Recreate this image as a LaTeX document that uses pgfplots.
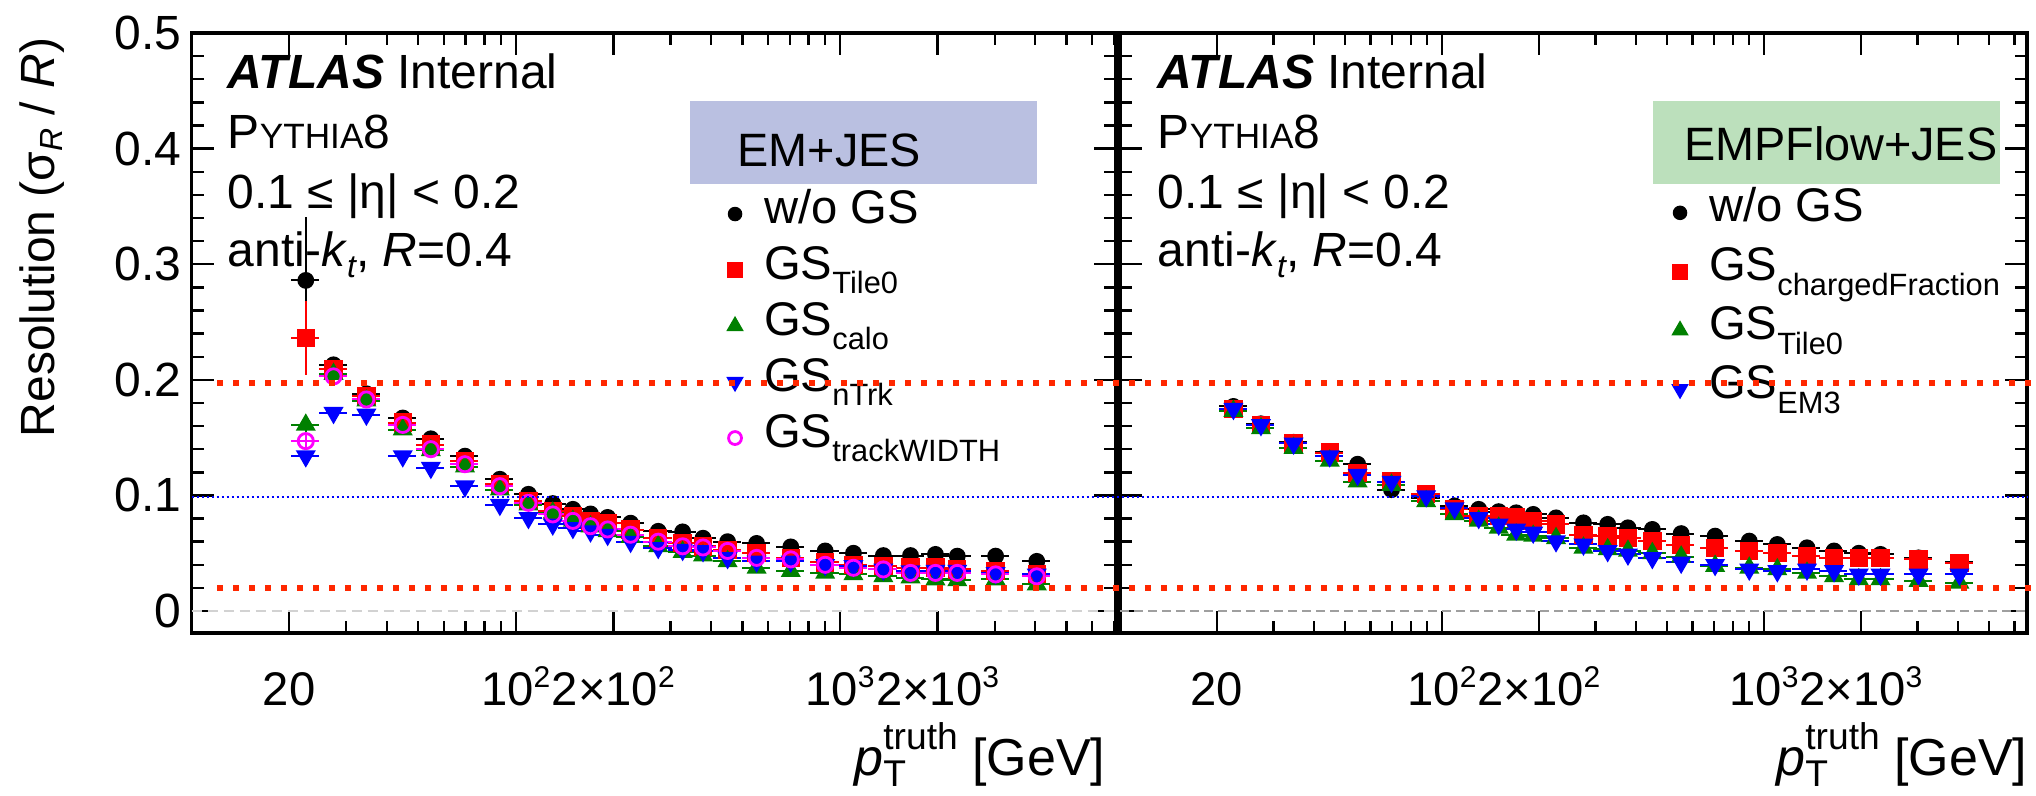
\documentclass[border=0pt]{standalone}
\usepackage{fontspec}
\setmainfont{Liberation Sans}
\usepackage{pgfplots}
\usepackage{pgfplotstable}
\pgfplotsset{compat=1.18}

\definecolor{rootgreen}{RGB}{0,128,0}
\definecolor{rootred}{RGB}{255,0,0}
\definecolor{rootblue}{RGB}{0,0,255}
\definecolor{rootmag}{RGB}{255,0,255}
\definecolor{annred}{RGB}{255,40,0}
\definecolor{emfill}{RGB}{186,192,225}
\definecolor{pffill}{RGB}{188,224,188}

\newcommand{\fs}[1]{\fontsize{#1}{#1}\selectfont}
\newcommand{\sub}[1]{\raisebox{-3.7pt}{\fs{7.7}#1}}
\newcommand{\sps}[1]{\raisebox{4.3pt}{\fs{7.5}#1}}

\pgfplotstableread{
x ex bk ebk rd erd gr egr bl ebl mg emg
22.5 0.1 0.286 0.055 0.236 0.032 0.161 0.006 0.134 0.004 0.147 0.005
27.4 0.1 0.213 0.004 0.209 0.004 0.205 0.004 0.1715 0.004 0.203 0.004
34.6 0.1 0.188 0.003 0.186 0.003 0.182 0.003 0.170 0.003 0.183 0.003
44.8 0.1 0.167 0.003 0.163 0.003 0.157 0.003 0.134 0.003 0.161 0.003
54.7 0.1 0.149 0.002 0.144 0.002 0.139 0.002 0.124 0.002 0.140 0.002
69.7 0.1 0.134 0.002 0.130 0.002 0.125 0.002 0.108 0.002 0.127 0.002
89.3 0.1 0.114 0.002 0.1095 0.002 0.105 0.002 0.092 0.002 0.108 0.002
109.4 0.1 0.101 0.002 0.095 0.002 0.092 0.002 0.0806 0.002 0.0936 0.002
130 0.1 0.093 0.002 0.0865 0.002 0.085 0.002 0.075 0.002 0.0836 0.002
150 0.1 0.088 0.002 0.082 0.002 0.078 0.002 0.072 0.002 0.078 0.002
170 0.1 0.084 0.002 0.078 0.002 0.073 0.002 0.069 0.002 0.0734 0.002
192 0.1 0.081 0.002 0.076 0.002 0.069 0.002 0.066 0.002 0.0706 0.002
226 0.1 0.076 0.002 0.0705 0.002 0.064 0.002 0.060 0.002 0.066 0.002
275 0.1 0.069 0.002 0.063 0.002 0.056 0.002 0.0547 0.002 0.060 0.002
327 0.1 0.0685 0.002 0.059 0.002 0.051 0.002 0.053 0.002 0.056 0.002
378 0.1 0.063 0.002 0.056 0.002 0.048 0.002 0.052 0.002 0.055 0.002
450 0.1 0.060 0.002 0.053 0.002 0.043 0.002 0.046 0.002 0.052 0.002
553 0.1 0.0585 0.002 0.050 0.002 0.0374 0.002 0.043 0.002 0.046 0.002
705 0.1 0.0555 0.002 0.046 0.002 0.0345 0.002 0.043 0.002 0.0447 0.002
900 0.1 0.052 0.002 0.042 0.002 0.033 0.002 0.040 0.002 0.040 0.002
1100 0.1 0.050 0.002 0.040 0.002 0.0317 0.002 0.039 0.002 0.0374 0.002
1360 0.1 0.048 0.002 0.039 0.002 0.030 0.002 0.036 0.002 0.036 0.002
1650 0.1 0.048 0.002 0.0375 0.002 0.029 0.002 0.0345 0.002 0.033 0.002
1970 0.1 0.049 0.002 0.0375 0.002 0.0273 0.002 0.035 0.002 0.033 0.002
2300 0.1 0.0475 0.002 0.036 0.002 0.0265 0.002 0.035 0.002 0.033 0.002
3020 0.1 0.0475 0.002 0.0345 0.002 0.0273 0.002 0.033 0.002 0.0317 0.002
4045 0.1 0.043 0.002 0.032 0.002 0.023 0.002 0.0317 0.002 0.030 0.002
}\leftdata

\pgfplotstableread{
x ex bk ebk rd erd gr egr bl ebl
22.5 0.1 0.177 0.003 0.175 0.003 0.173 0.003 0.175 0.003
27.4 0.1 0.162 0.002 0.161 0.002 0.158 0.002 0.161 0.002
34.6 0.1 0.146 0.002 0.145 0.002 0.141 0.002 0.145 0.002
44.8 0.1 0.138 0.002 0.137 0.002 0.130 0.002 0.134 0.002
54.7 0.1 0.127 0.002 0.1195 0.002 0.112 0.002 0.118 0.002
69.7 0.1 0.105 0.002 0.112 0.002 0.109 0.002 0.112 0.002
89.3 0.1 0.098 0.002 0.101 0.002 0.095 0.002 0.0994 0.002
109.4 0.1 0.091 0.002 0.088 0.002 0.0836 0.002 0.089 0.002
130 0.1 0.088 0.002 0.082 0.002 0.078 0.002 0.0806 0.002
150 0.1 0.086 0.002 0.082 0.002 0.072 0.002 0.075 0.002
170 0.1 0.085 0.002 0.081 0.002 0.066 0.002 0.0706 0.002
192 0.1 0.0836 0.002 0.078 0.002 0.065 0.002 0.068 0.002
226 0.1 0.0806 0.002 0.075 0.002 0.063 0.002 0.0605 0.002
275 0.1 0.0763 0.002 0.066 0.002 0.0547 0.002 0.0576 0.002
327 0.1 0.075 0.002 0.065 0.002 0.0533 0.002 0.052 0.002
378 0.1 0.072 0.002 0.0634 0.002 0.052 0.002 0.049 0.002
450 0.1 0.0706 0.002 0.0605 0.002 0.050 0.002 0.046 0.002
553 0.1 0.067 0.002 0.057 0.002 0.047 0.002 0.042 0.002
705 0.1 0.0648 0.002 0.0547 0.002 0.039 0.002 0.040 0.002
900 0.1 0.0605 0.002 0.052 0.002 0.0374 0.002 0.036 0.002
1100 0.1 0.0576 0.002 0.050 0.002 0.036 0.002 0.0346 0.002
1360 0.1 0.0547 0.002 0.0475 0.002 0.033 0.002 0.036 0.002
1650 0.1 0.052 0.002 0.046 0.002 0.030 0.002 0.0346 0.002
1970 0.1 0.050 0.002 0.046 0.002 0.0274 0.002 0.0317 0.002
2300 0.1 0.049 0.002 0.046 0.002 0.0274 0.002 0.0317 0.002
3020 0.1 0.046 0.002 0.0447 0.002 0.026 0.002 0.0317 0.002
4045 0.1 0.042 0.002 0.0418 0.002 0.0245 0.002 0.0317 0.002
}\rightdata

\pgfplotsset{
  legend image code/.code={\path[draw=none,fill=none] (-3pt,-3pt) rectangle (3pt,3pt); \draw[#1, every mark/.append style={scale=0.85}] plot coordinates {(0pt,0pt)};},
  ser/.style={only marks, color=#1,
    error bars/x dir=both, error bars/x explicit relative,
    error bars/y dir=both, error bars/y explicit,
    error bars/error mark=none,
    error bars/error bar style={line width=0.5pt, color=#1}},
}

\begin{document}
\begin{tikzpicture}
% ---------------- left panel ----------------
\begin{axis}[at={(47.9pt,40.5pt)}, anchor=south west, width=231.1pt, height=150pt, scale only axis,
    xmode=log, xmin=10, xmax=7100, ymin=-0.019, ymax=0.5,
    axis line style={line width=0.8pt},
    tick style={line width=0.6pt, black},
    major tick length=5.5pt, minor tick length=3pt,
    xtick={20,100,200,1000,2000},
    xticklabels={20,10\sps{2},2×10\sps{2},10\sps{3},2×10\sps{3}},
    minor xtick={30,40,50,60,70,80,90,300,400,500,600,700,800,900,3000,4000,5000,6000,7000},
    ytick={0,0.1,0.2,0.3,0.4,0.5},
    yticklabels={0,0.1,0.2,0.3,0.4,0.5},
    minor y tick num=4,
    x tick label style={font=\fs{11.8}, anchor=base, yshift=-18pt, inner sep=0pt},
    y tick label style={font=\fs{12}, anchor=east, xshift=-2.4pt, inner sep=0pt},
    legend cell align=left,
    legend style={draw=none, fill=none, inner sep=0pt, outer sep=0pt, anchor=north west,
      font=\fs{11.8}, column sep=4.3pt, row sep=0.5pt,
      nodes={inner sep=0pt, outer sep=0pt, text height=9pt, text depth=4.5pt},
      at={(axis description cs:0.5749,0.7433)}}]
\addplot[forget plot, gray!35, line width=0.5pt, dash pattern=on 2.5pt off 1.5pt] coordinates {(10,0) (7100,0)};
\addplot[ser=black, mark=*, mark size=1.9pt] table[x=x, y=bk, x error=ex, y error=ebk] {\leftdata};
\addlegendentry{w/o GS}
\addplot[ser=rootred, mark=square*, mark size=2.1pt] table[x=x, y=rd, x error=ex, y error=erd] {\leftdata};
\addlegendentry{GS\sub{Tile0}}
\addplot[ser=rootgreen, mark=triangle*, mark size=2.5pt] table[x=x, y=gr, x error=ex, y error=egr] {\leftdata};
\addlegendentry{GS\sub{calo}}
\addplot[ser=rootblue, mark=triangle*, mark size=2.5pt, mark options={rotate=180}] table[x=x, y=bl, x error=ex, y error=ebl] {\leftdata};
\addlegendentry{GS\sub{nTrk}}
\addplot[ser=rootmag, mark=o, mark size=1.9pt, mark options={line width=0.7pt}] table[x=x, y=mg, x error=ex, y error=emg] {\leftdata};
\addlegendentry{GS\sub{trackWIDTH}}
\coordinate (rt0) at (axis cs:12.0,0.197);
\coordinate (rt1) at (axis cs:6e6,0.197);
\coordinate (rb0) at (axis cs:12.0,0.0195);
\coordinate (rb1) at (axis cs:6e6,0.0195);
\coordinate (bl0) at (axis cs:10,0.0985);
\coordinate (bl1) at (axis cs:4.62e6,0.0985);
\end{axis}
% ---------------- right panel ----------------
\begin{axis}[at={(280pt,40.5pt)}, anchor=south west, width=226.75pt, height=150pt, scale only axis,
    xmode=log, xmin=10, xmax=6560, ymin=-0.019, ymax=0.5,
    axis line style={line width=0.8pt},
    tick style={line width=0.6pt, black},
    major tick length=5.5pt, minor tick length=3pt,
    xtick={20,100,200,1000,2000},
    xticklabels={20,10\sps{2},2×10\sps{2},10\sps{3},2×10\sps{3}},
    minor xtick={30,40,50,60,70,80,90,300,400,500,600,700,800,900,3000,4000,5000,6000},
    ytick={0,0.1,0.2,0.3,0.4,0.5},
    yticklabels={,,,,,},
    minor y tick num=4,
    x tick label style={font=\fs{11.8}, anchor=base, yshift=-18pt, inner sep=0pt},
    legend cell align=left,
    legend style={draw=none, fill=none, inner sep=0pt, outer sep=0pt, anchor=north west,
      font=\fs{11.8}, column sep=4.3pt, row sep=1.2pt,
      nodes={inner sep=0pt, outer sep=0pt, text height=9pt, text depth=4.5pt},
      at={(axis description cs:0.6042,0.7453)}}]
\addplot[forget plot, gray!75, line width=0.5pt, dash pattern=on 2.2pt off 1.3pt] coordinates {(10,0) (6560,0)};
\addplot[ser=black, mark=*, mark size=1.9pt] table[x=x, y=bk, x error=ex, y error=ebk] {\rightdata};
\addlegendentry{w/o GS}
\addplot[ser=rootred, mark=square*, mark size=2.1pt] table[x=x, y=rd, x error=ex, y error=erd] {\rightdata};
\addlegendentry{GS\sub{chargedFraction}}
\addplot[ser=rootgreen, mark=triangle*, mark size=2.5pt] table[x=x, y=gr, x error=ex, y error=egr] {\rightdata};
\addlegendentry{GS\sub{Tile0}}
\addplot[ser=rootblue, mark=triangle*, mark size=2.5pt, mark options={rotate=180}] table[x=x, y=bl, x error=ex, y error=ebl] {\rightdata};
\addlegendentry{GS\sub{EM3}}
\end{axis}
% ---------------- texts ----------------
\foreach \xo in {56.75pt,289.25pt}{
  \node[anchor=base west, inner sep=0pt, font=\fs{12}] at (\xo,176.7pt) {{\bfseries\itshape ATLAS} Internal};
  \node[anchor=base west, inner sep=0pt, font=\fs{12}] at (\xo,161.7pt) {P{\fs{8.8}YTHIA}8};
  \node[anchor=base west, inner sep=0pt, font=\fs{12}] at (\xo,146.7pt) {0.1 ≤ |η| < 0.2};
  \node[anchor=base west, inner sep=0pt, font=\fs{12}] at (\xo,132.1pt) {anti-\textit{k}\raisebox{-2.8pt}{\fs{8}\itshape t}, \textit{R}=0.4};
}
\fill[emfill] (172.5pt,152.75pt) rectangle (259.25pt,173.5pt);
\node[anchor=base west, inner sep=0pt, font=\fs{11.7}] at (184.2pt,157.1pt) {EM+JES};
\fill[pffill] (413.2pt,152.75pt) rectangle (500pt,173.5pt);
\node[anchor=base west, inner sep=0pt, font=\fs{11.7}] at (420.8pt,158.75pt) {EMPFlow+JES};
\node[rotate=90, anchor=base east, inner sep=0pt, font=\fs{12}] at (13.75pt,189.5pt) {Resolution (σ\raisebox{-2pt}{\fs{8}\itshape R} / \textit{R})};
\node[anchor=base east, inner sep=0pt, font=\fs{13}] at (276.5pt,5pt) {\textit{p}\rlap{\raisebox{-2.8pt}{\fs{9.3}T}}\raisebox{6.3pt}{\fs{9.3}truth} [GeV]};
\node[anchor=base east, inner sep=0pt, font=\fs{13}] at (507pt,5pt) {\textit{p}\rlap{\raisebox{-2.8pt}{\fs{9.3}T}}\raisebox{6.3pt}{\fs{9.3}truth} [GeV]};
% ---------------- annotation lines ----------------
\draw[annred, line width=1.5pt, dash pattern=on 1.5pt off 2.5pt] (rt0) -- (rt1);
\draw[annred, line width=1.5pt, dash pattern=on 1.5pt off 2.5pt] (rb0) -- (rb1);
\draw[rootblue, line width=0.5pt, dash pattern=on 0.6pt off 0.65pt] (bl0) -- (bl1);
\pgfresetboundingbox
\path[use as bounding box] (0,0) rectangle (509pt,198.75pt);
\end{tikzpicture}
\end{document}
